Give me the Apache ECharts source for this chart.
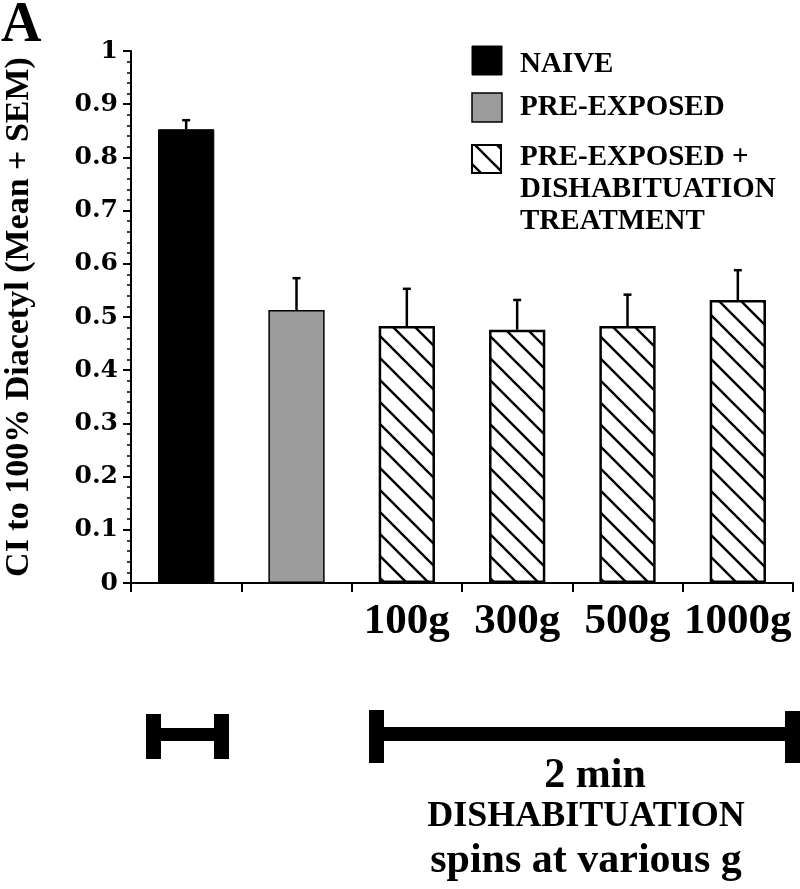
<!DOCTYPE html>
<html>
<head>
<meta charset="utf-8">
<script src="https://cdn.jsdelivr.net/npm/echarts@6/dist/echarts.min.js"></script>
<style>
html,body{margin:0;padding:0;background:#fff;}
#chart{width:800px;height:889px;}
</style>
</head>
<body>
<div id="chart"></div>
<script>
// ---- data ----
const categories = ['NAIVE', 'PRE-EXPOSED', '100g', '300g', '500g', '1000g'];
const xTickLabels = ['', '', '100g', '300g', '500g', '1000g'];
const meanValues = [0.853, 0.513, 0.483, 0.476, 0.483, 0.532];
const semValues = [0.017, 0.060, 0.070, 0.056, 0.059, 0.056];
const groupOf = ['naive', 'pre', 'dis', 'dis', 'dis', 'dis'];
const legendNames = ['NAIVE', 'PRE-EXPOSED', 'PRE-EXPOSED +\nDISHABITUATION\nTREATMENT'];
const yAxisTitle = 'CI to 100% Diacetyl (Mean + SEM)';
const yMin = 0, yMax = 1, yInterval = 0.1;

// ---- hatch pattern ----
function makeHatch() {
  const s = 22;
  const c = document.createElement('canvas');
  c.width = s; c.height = s;
  const g = c.getContext('2d');
  g.fillStyle = '#fff';
  g.fillRect(0, 0, s, s);
  g.strokeStyle = '#000';
  g.lineWidth = 2.4;
  g.beginPath();
  g.moveTo(-2, -2); g.lineTo(s + 2, s + 2);
  g.moveTo(s - 3, -3); g.lineTo(s + 3, 3);
  g.moveTo(-3, s - 3); g.lineTo(3, s + 3);
  g.stroke();
  return c;
}
const hatch = { image: makeHatch(), repeat: 'repeat' };

const styles = {
  naive: { color: '#000', borderColor: '#000', borderWidth: 1 },
  pre: { color: '#9b9b9b', borderColor: '#000', borderWidth: 1.5 },
  dis: { color: hatch, borderColor: '#000', borderWidth: 2.5 }
};

const serif = '"Liberation Serif", "Times New Roman", serif';
const wideSerif = '"DejaVu Serif", serif';

const chart = echarts.init(document.getElementById('chart'), null, { renderer: 'canvas' });

const option = {
  backgroundColor: '#fff',
  animation: false,
  grid: { left: 131, right: 7, top: 51, bottom: 306, containLabel: false, outerBoundsMode: 'none' },
  xAxis: {
    type: 'category',
    data: categories,
    boundaryGap: true,
    axisLine: { lineStyle: { color: '#000', width: 2 } },
    axisTick: { show: true, length: 9, lineStyle: { color: '#000', width: 2 } },
    axisLabel: {
      interval: 0,
      margin: 17,
      formatter: (v, i) => xTickLabels[i],
      fontFamily: serif, fontWeight: 'bold', fontSize: 43, color: '#000'
    },
    splitLine: { show: false }
  },
  yAxis: {
    type: 'value',
    min: yMin, max: yMax, interval: yInterval,
    name: yAxisTitle,
    nameLocation: 'middle',
    nameRotate: 90,
    nameGap: 95,
    nameTextStyle: { fontFamily: serif, fontWeight: 'bold', fontSize: 34, color: '#000' },
    axisLine: { show: true, lineStyle: { color: '#000', width: 2 } },
    axisTick: { show: true, length: 8, lineStyle: { color: '#000', width: 2 } },
    minorTick: { show: true, splitNumber: 5, length: 4, lineStyle: { color: '#000', width: 1.5 } },
    axisLabel: { margin: 13, fontFamily: wideSerif, fontWeight: 'bold', fontSize: 25, color: '#000' },
    splitLine: { show: false }
  },
  series: [
    {
      type: 'bar',
      barWidth: '51%',
      data: meanValues.map((v, i) => ({ value: v, itemStyle: styles[groupOf[i]] })),
      z: 2
    },
    {
      type: 'custom',
      z: 3,
      data: meanValues.map((v, i) => [i, v, v + semValues[i]]),
      renderItem: function (params, api) {
        const base = api.coord([api.value(0), api.value(1)]);
        const top = api.coord([api.value(0), api.value(2)]);
        const hw = 4;
        return {
          type: 'group',
          children: [
            { type: 'line', shape: { x1: base[0], y1: base[1], x2: top[0], y2: top[1] },
              style: { stroke: '#000', lineWidth: 2.5 } },
            { type: 'line', shape: { x1: top[0] - hw, y1: top[1], x2: top[0] + hw, y2: top[1] },
              style: { stroke: '#000', lineWidth: 2.5 } }
          ]
        };
      }
    }
  ],
  graphic: [
    // panel letter
    { type: 'text', left: 1, top: -1, style: { text: 'A', font: 'bold 56px ' + serif, fill: '#000' } },
    // legend
    { type: 'rect', shape: { x: 472, y: 46, width: 30, height: 29 }, style: { fill: '#000', stroke: '#000', lineWidth: 1 } },
    { type: 'rect', shape: { x: 472, y: 93, width: 30, height: 29 }, style: { fill: '#9b9b9b', stroke: '#000', lineWidth: 1.5 } },
    { type: 'rect', shape: { x: 472, y: 145, width: 29, height: 28 }, style: { fill: hatch, stroke: '#000', lineWidth: 2 } },
    { type: 'text', x: 520, y: 65, style: { text: legendNames[0], font: 'bold 29px ' + serif, fill: '#000', verticalAlign: 'middle' } },
    { type: 'text', x: 520, y: 108, style: { text: legendNames[1], font: 'bold 29px ' + serif, fill: '#000', verticalAlign: 'middle' } },
    { type: 'text', x: 520, y: 142, style: { text: legendNames[2], font: 'bold 29px ' + serif, fill: '#000', verticalAlign: 'top', lineHeight: 32 } },
    // bottom timeline annotations
    { type: 'rect', shape: { x: 146, y: 728, width: 83, height: 13 }, style: { fill: '#000' } },
    { type: 'rect', shape: { x: 146, y: 714, width: 15, height: 45 }, style: { fill: '#000' } },
    { type: 'rect', shape: { x: 214, y: 714, width: 15, height: 45 }, style: { fill: '#000' } },
    { type: 'rect', shape: { x: 369, y: 727, width: 431, height: 14 }, style: { fill: '#000' } },
    { type: 'rect', shape: { x: 369, y: 710, width: 15, height: 53 }, style: { fill: '#000' } },
    { type: 'rect', shape: { x: 785, y: 711, width: 15, height: 52 }, style: { fill: '#000' } },
    { type: 'text', x: 595, y: 776, style: { text: '2 min', font: 'bold 42px ' + serif, fill: '#000', align: 'center', verticalAlign: 'middle' } },
    { type: 'text', x: 586, y: 817, style: { text: 'DISHABITUATION', font: 'bold 36px ' + serif, fill: '#000', align: 'center', verticalAlign: 'middle' } },
    { type: 'text', x: 586, y: 861, style: { text: 'spins at various g', font: 'bold 42px ' + serif, fill: '#000', align: 'center', verticalAlign: 'middle' } }
  ]
};
chart.setOption(option);
</script>
</body>
</html>
